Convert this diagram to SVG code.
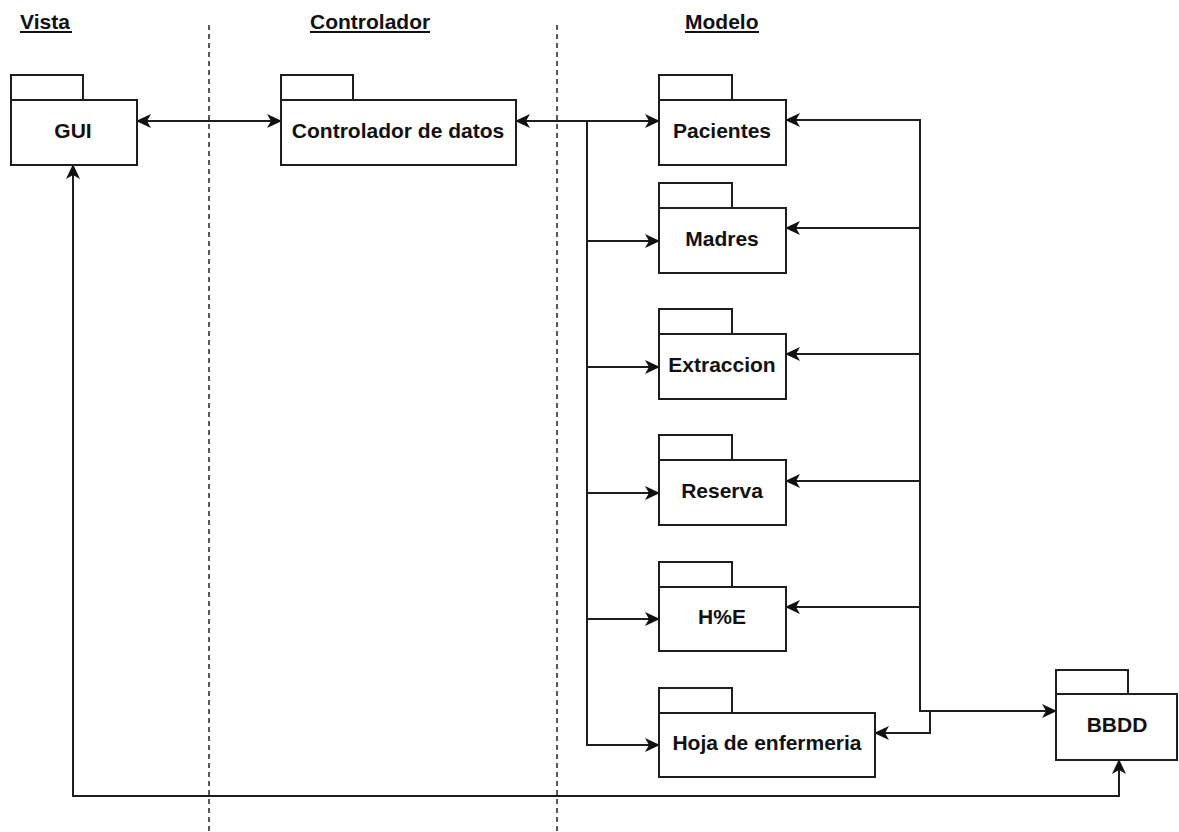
<svg xmlns="http://www.w3.org/2000/svg" width="1179" height="832" viewBox="0 0 1179 832">
  <style>
    .pkg rect { fill: #ffffff; stroke: #1e1e1e; stroke-width: 2; }
    .lbl { font-family: "Liberation Sans", Arial, sans-serif; font-weight: bold; font-size: 21px; fill: #111111; text-anchor: middle; }
    .hdr { font-family: "Liberation Sans", Arial, sans-serif; font-weight: bold; font-size: 21px; fill: #111111; }
    .uline { stroke: #111111; stroke-width: 2; }
    .sep { stroke: #222222; stroke-width: 1.5; stroke-dasharray: 5 4; fill: none; }
    .wire { stroke: #1e1e1e; stroke-width: 2; fill: none; }
  </style>
  <defs>
    <marker id="head" viewBox="0 0 15 14" refX="14" refY="7" markerWidth="15" markerHeight="14" markerUnits="userSpaceOnUse" orient="auto-start-reverse">
      <path d="M0,0 L15,7 L0,14 L4,7 z" fill="#111111"/>
    </marker>
  </defs>

  <rect x="0" y="0" width="1179" height="832" fill="#ffffff"/>

  <!-- layer headers -->
  <g id="headers">
    <text class="hdr" x="20" y="29">Vista</text>
    <line class="uline" x1="20" y1="32" x2="72" y2="32"/>
    <text class="hdr" x="310" y="29">Controlador</text>
    <line class="uline" x1="310" y1="32" x2="430" y2="32"/>
    <text class="hdr" x="685" y="29">Modelo</text>
    <line class="uline" x1="685" y1="32" x2="759" y2="32"/>
  </g>

  <!-- layer separators -->
  <g id="separators">
    <line class="sep" x1="209" y1="25" x2="209" y2="832"/>
    <line class="sep" x1="557" y1="25" x2="557" y2="832"/>
  </g>

  <!-- connectors -->
  <g id="connectors">
    <!-- GUI <-> Controlador de datos -->
    <line class="wire" x1="137" y1="121" x2="281" y2="121" marker-start="url(#head)" marker-end="url(#head)"/>
    <!-- Controlador de datos -> model packages -->
    <line class="wire" x1="516" y1="121" x2="659" y2="121" marker-start="url(#head)" marker-end="url(#head)"/>
    <line class="wire" x1="587" y1="121" x2="587" y2="745"/>
    <line class="wire" x1="587" y1="241" x2="659" y2="241" marker-end="url(#head)"/>
    <line class="wire" x1="587" y1="367" x2="659" y2="367" marker-end="url(#head)"/>
    <line class="wire" x1="587" y1="493" x2="659" y2="493" marker-end="url(#head)"/>
    <line class="wire" x1="587" y1="619" x2="659" y2="619" marker-end="url(#head)"/>
    <line class="wire" x1="586" y1="745" x2="659" y2="745" marker-end="url(#head)"/>
    <!-- BBDD bus -> model packages -->
    <line class="wire" x1="920" y1="120" x2="920" y2="711"/>
    <line class="wire" x1="921" y1="120" x2="786" y2="120" marker-end="url(#head)"/>
    <line class="wire" x1="920" y1="228" x2="786" y2="228" marker-end="url(#head)"/>
    <line class="wire" x1="920" y1="354" x2="786" y2="354" marker-end="url(#head)"/>
    <line class="wire" x1="920" y1="481" x2="786" y2="481" marker-end="url(#head)"/>
    <line class="wire" x1="920" y1="607" x2="786" y2="607" marker-end="url(#head)"/>
    <line class="wire" x1="919" y1="711" x2="1056" y2="711" marker-end="url(#head)"/>
    <path class="wire" d="M930,711 L930,733 L875,733" marker-end="url(#head)"/>
    <!-- GUI <-> BBDD -->
    <path class="wire" d="M73,165 L73,796 L1119,796 L1119,760" marker-start="url(#head)" marker-end="url(#head)"/>
  </g>

  <!-- packages -->
  <g id="gui" class="pkg">
    <rect x="11" y="75" width="72" height="25"/>
    <rect x="11" y="100" width="126" height="65"/>
    <text class="lbl" x="73" y="138">GUI</text>
  </g>
  <g id="controlador-datos" class="pkg">
    <rect x="281" y="75" width="72" height="25"/>
    <rect x="281" y="100" width="235" height="65"/>
    <text class="lbl" x="398" y="138">Controlador de datos</text>
  </g>
  <g id="pacientes" class="pkg">
    <rect x="659" y="75" width="73" height="25"/>
    <rect x="659" y="100" width="127" height="65"/>
    <text class="lbl" x="722" y="138">Pacientes</text>
  </g>
  <g id="madres" class="pkg">
    <rect x="659" y="183" width="73" height="25"/>
    <rect x="659" y="208" width="127" height="65"/>
    <text class="lbl" x="722" y="246">Madres</text>
  </g>
  <g id="extraccion" class="pkg">
    <rect x="659" y="309" width="73" height="25"/>
    <rect x="659" y="334" width="127" height="65"/>
    <text class="lbl" x="722" y="372">Extraccion</text>
  </g>
  <g id="reserva" class="pkg">
    <rect x="659" y="435" width="73" height="25"/>
    <rect x="659" y="460" width="127" height="65"/>
    <text class="lbl" x="722" y="498">Reserva</text>
  </g>
  <g id="he" class="pkg">
    <rect x="659" y="562" width="73" height="25"/>
    <rect x="659" y="587" width="127" height="64"/>
    <text class="lbl" x="722" y="624">H%E</text>
  </g>
  <g id="hoja-enfermeria" class="pkg">
    <rect x="659" y="688" width="73" height="25"/>
    <rect x="659" y="713" width="216" height="64"/>
    <text class="lbl" x="767" y="750">Hoja de enfermeria</text>
  </g>
  <g id="bbdd" class="pkg">
    <rect x="1056" y="670" width="72" height="24"/>
    <rect x="1056" y="694" width="121" height="66"/>
    <text class="lbl" x="1117" y="732">BBDD</text>
  </g>
</svg>
